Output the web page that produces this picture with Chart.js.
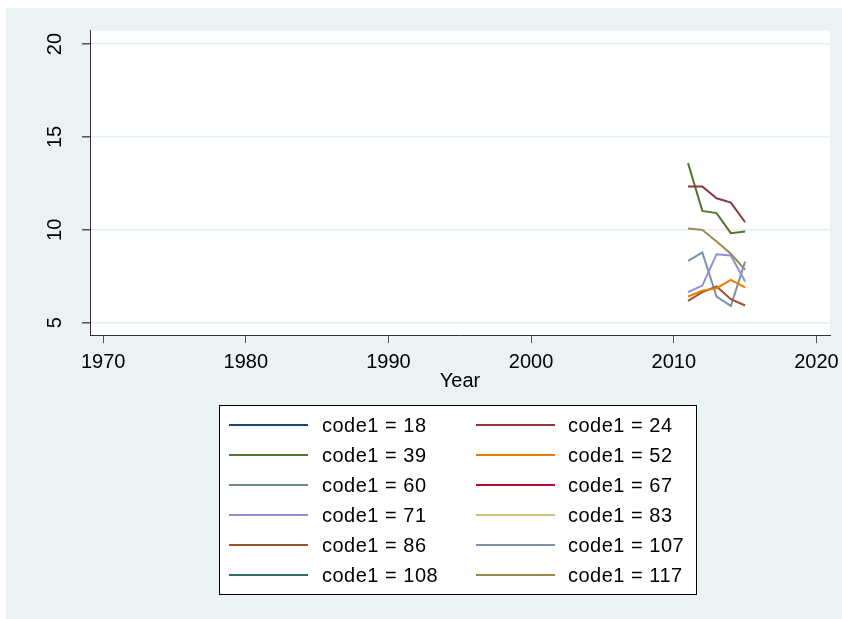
<!DOCTYPE html>
<html>
<head>
<meta charset="utf-8">
<script src="https://cdn.jsdelivr.net/npm/chart.js@4/dist/chart.umd.min.js"></script>
<style>
  html, body { margin: 0; padding: 0; background: #ffffff; }
  #wrap { position: relative; width: 842px; height: 619px; }
</style>
</head>
<body>
<div id="wrap"><canvas id="c" width="842" height="619"></canvas></div>
<script>
// Years observed and one value list per code1 group
const years = [2011, 2012, 2013, 2014, 2015];
const codes = [18, 24, 39, 52, 60, 67, 71, 83, 86, 107, 108, 117];

const code18  = [null, null, null, null, null];
const code24  = [12.33, 12.33, 11.70, 11.47, 10.41];
const code39  = [13.59, 11.02, 10.90, 9.82, 9.91];
const code52  = [6.41, 6.73, 6.86, 7.31, 6.90];
const code60  = [null, null, null, null, null];
const code67  = [null, null, null, null, null];
const code71  = [6.65, 7.00, 8.69, 8.62, 7.22];
const code83  = [null, null, null, null, null];
const code86  = [6.18, 6.65, 6.95, 6.27, 5.93];
const code107 = [8.33, 8.78, 6.41, 5.91, 8.29];
const code108 = [null, null, null, null, null];
const code117 = [10.07, 10.00, 9.37, 8.71, 7.85];

const seriesValues = [code18, code24, code39, code52, code60, code67,
                      code71, code83, code86, code107, code108, code117];

// Stata s2color palette, in series order
const seriesColors = ['#1a476f', '#90353b', '#55752f', '#e37e00', '#6e8e84', '#c10534',
                      '#938dd2', '#cac27e', '#a0522d', '#7b92a8', '#2d6d66', '#9c8847'];

const xTicks = [1970, 1980, 1990, 2000, 2010, 2020];
const yTicks = [5, 10, 15, 20];

const FONT = 'Liberation Sans, Arial, Helvetica, sans-serif';

const datasets = codes.map((code, i) => ({
  label: 'code1 = ' + code,
  data: years.map((yr, j) => ({ x: yr, y: seriesValues[i][j] })),
  borderColor: seriesColors[i],
  backgroundColor: seriesColors[i],
  borderWidth: 2,
  pointRadius: 0,
  tension: 0,
  fill: false
}));

// Graph region, plot region backgrounds
const backgroundPlugin = {
  id: 'regions',
  beforeDraw(chart) {
    const ctx = chart.ctx;
    const a = chart.chartArea;
    ctx.save();
    ctx.fillStyle = '#ffffff';
    ctx.fillRect(0, 0, chart.width, chart.height);
    ctx.fillStyle = '#eaf2f3';
    ctx.fillRect(6, 8, chart.width - 6, chart.height - 8);
    ctx.fillStyle = '#ffffff';
    ctx.fillRect(a.left, a.top, a.right - a.left, a.bottom - a.top);
    ctx.restore();
  }
};

// Two-column boxed legend below the x axis title
const boxLegendPlugin = {
  id: 'boxLegend',
  afterDraw(chart) {
    const ctx = chart.ctx;
    const box = { x: 219.5, y: 405.5, w: 477, h: 189 };
    const colLine = [229, 476];
    const lineLen = 79;
    const colText = [322, 568];
    const rowY0 = 425, rowGap = 30;
    ctx.save();
    ctx.fillStyle = '#ffffff';
    ctx.fillRect(box.x, box.y, box.w, box.h);
    ctx.strokeStyle = '#000000';
    ctx.lineWidth = 1;
    ctx.strokeRect(box.x, box.y, box.w, box.h);
    ctx.font = '20px ' + FONT;
    ctx.letterSpacing = '0.5px';
    ctx.textBaseline = 'middle';
    ctx.textAlign = 'left';
    chart.data.datasets.forEach((ds, i) => {
      const col = i % 2, row = Math.floor(i / 2);
      const y = rowY0 + row * rowGap;
      ctx.strokeStyle = ds.borderColor;
      ctx.lineWidth = 2;
      ctx.beginPath();
      ctx.moveTo(colLine[col], y);
      ctx.lineTo(colLine[col] + lineLen, y);
      ctx.stroke();
      ctx.fillStyle = '#000000';
      ctx.fillText(ds.label, colText[col], y + 1);
    });
    ctx.restore();
  }
};

new Chart(document.getElementById('c'), {
  type: 'line',
  data: { datasets },
  plugins: [backgroundPlugin, boxLegendPlugin],
  options: {
    responsive: false,
    animation: false,
    devicePixelRatio: 1,
    layout: { padding: { top: 30.7, right: 12, bottom: 224, left: 0 } },
    plugins: {
      legend: { display: false },
      tooltip: { enabled: false }
    },
    scales: {
      x: {
        type: 'linear',
        min: 1969.08,
        max: 2020.95,
        afterBuildTicks: s => { s.ticks = xTicks.map(v => ({ value: v })); },
        afterFit: s => { s.height = 60; s.paddingLeft = 0; s.paddingRight = 0; },
        ticks: {
          autoSkip: false, maxRotation: 0, minRotation: 0, padding: 7,
          color: '#000000', font: { family: FONT, size: 20 },
          callback: v => String(v)
        },
        grid: { drawOnChartArea: false, drawTicks: true, tickLength: 8, tickColor: '#555555', lineWidth: 1 },
        border: { display: true, color: '#333333', width: 1 },
        title: {
          display: true, text: 'Year', color: '#000000',
          font: { family: FONT, size: 20 },
          padding: { top: 0, bottom: 2 }
        }
      },
      y: {
        type: 'linear',
        position: 'left',
        min: 4.34,
        max: 20.72,
        afterBuildTicks: s => { s.ticks = yTicks.map(v => ({ value: v })); },
        afterFit: s => { s.width = 90; s.paddingTop = 0; s.paddingBottom = 0; },
        ticks: {
          autoSkip: false, minRotation: 90, maxRotation: 90, crossAlign: 'center', padding: 15,
          color: '#000000', font: { family: FONT, size: 20 },
          callback: v => String(v)
        },
        grid: { drawOnChartArea: true, drawTicks: true, tickLength: 8, color: '#e4edef', tickColor: '#555555', lineWidth: 1.5 },
        border: { display: true, color: '#333333', width: 1 }
      }
    }
  }
});
</script>
</body>
</html>
